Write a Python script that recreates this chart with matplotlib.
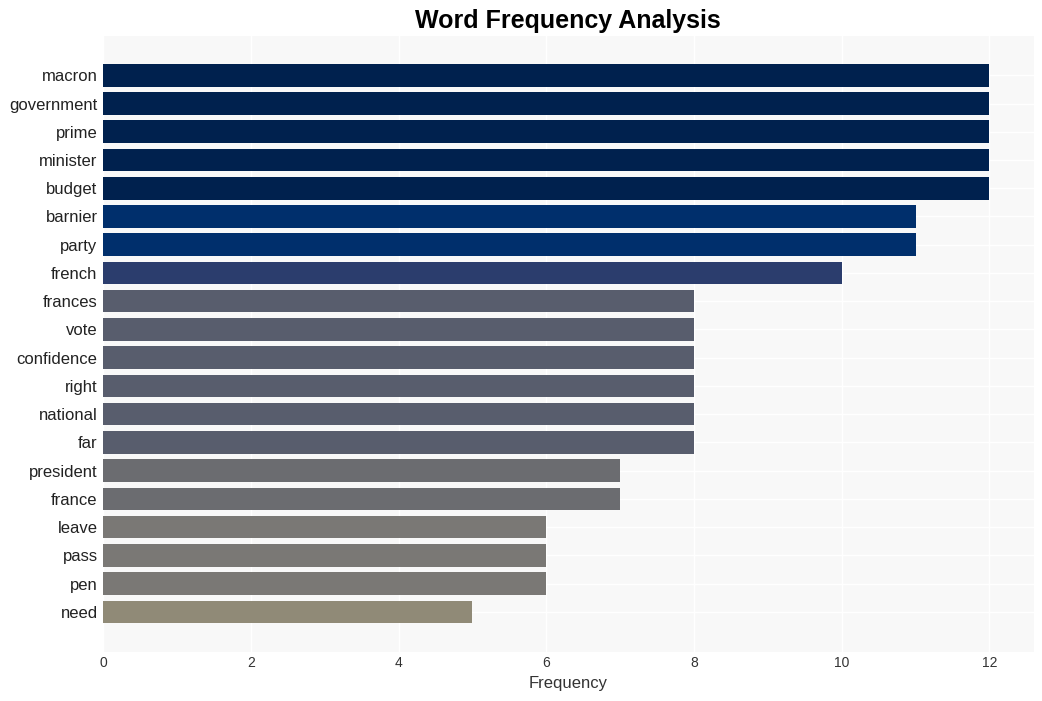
import matplotlib.pyplot as plt

plt.rcParams['font.family'] = ['Liberation Sans', 'DejaVu Sans']

# word counts
words = ["macron", "government", "prime", "minister", "budget", "barnier", "party",
         "french", "frances", "vote", "confidence", "right", "national", "far",
         "president", "france", "leave", "pass", "pen", "need"]
counts = [12, 12, 12, 12, 12, 11, 11, 10, 8, 8, 8, 8, 8, 8, 7, 7, 6, 6, 6, 5]

# one colour per frequency level
level_colors = {12: "#00214e", 11: "#002f6c", 10: "#2b3d6d", 8: "#585d6d",
                7: "#6b6c70", 6: "#7a7875", 5: "#908a77"}
colors = [level_colors[c] for c in counts]

fig = plt.figure(figsize=(10.42, 7.01), dpi=100)
ax = fig.add_axes([0.099, 0.07, 0.893, 0.879])
ax.set_facecolor("#f8f8f8")

ax.barh(range(len(words)), counts, height=0.8, color=colors, zorder=2)
ax.set_yticks(range(len(words)))
ax.set_yticklabels(words, fontsize=12, color="#222222")
ax.set_ylim(20.42, -1.40)
ax.set_xlim(0, 12.6)
ax.set_xticks([0, 2, 4, 6, 8, 10, 12])
ax.tick_params(axis="x", labelsize=10, colors="#333333", length=0, pad=3)
ax.tick_params(axis="y", length=0, pad=4)

ax.grid(True, color="white", linewidth=1, zorder=0)
ax.set_axisbelow(True)
for s in ax.spines.values():
    s.set_visible(False)

ax.set_xlabel("Frequency", fontsize=12, color="#333333", labelpad=4)
fig.text(0.545, 0.970, "Word Frequency Analysis", ha="center", va="center",
         fontsize=18, fontweight="bold")

plt.savefig("out.png")
